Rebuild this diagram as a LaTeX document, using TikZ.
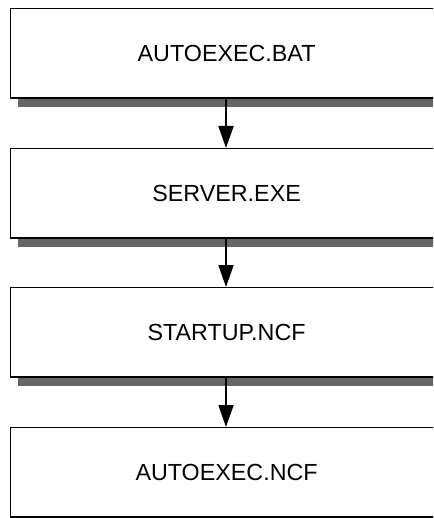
\documentclass[tikz,border=0pt]{standalone}
\usepackage{fontspec}
\setmainfont{Liberation Sans}
\usetikzlibrary{arrows.meta}
\definecolor{shadowgray}{HTML}{666666}
\tikzset{
  stagebox/.style={draw=black, line width=1.2pt, fill=white, minimum width=432pt,
    minimum height=89pt, inner sep=0pt, anchor=north west,
    font=\fontsize{23.3}{28}\selectfont},
  flowarrow/.style={line width=1.8pt, -{Triangle[length=22pt,width=15pt]}},
}
\newcommand{\boxshadow}[1]{%
  \fill[shadowgray] ([xshift=8pt]#1.south west) rectangle ([xshift=10pt,yshift=-9pt]#1.south east);}
\begin{document}
\begin{tikzpicture}[x=1pt,y=-1pt]
  \useasboundingbox (0,0) rectangle (433,518);
  \clip (0,0) rectangle (433,518);
  % the four start-up stages
  \node[stagebox] (bat) at (10,8)   {AUTOEXEC.BAT};
  \node[stagebox] (srv) at (10,148) {SERVER.EXE};
  \node[stagebox] (stu) at (10,287) {STARTUP.NCF};
  \node[stagebox] (ncf) at (10,427) {AUTOEXEC.NCF};
  % shadows under each box
  \boxshadow{bat}
  \boxshadow{srv}
  \boxshadow{stu}
  \boxshadow{ncf}
  % redraw the box borders on top of the shadows
  \foreach \b in {bat,srv,stu,ncf}
    \draw[line width=1.2pt] (\b.south west) -- (\b.south east);
  % sequence arrows
  \draw[flowarrow] (bat.south -| 226,0) -- (srv.north -| 226,0);
  \draw[flowarrow] (srv.south -| 226,0) -- (stu.north -| 226,0);
  \draw[flowarrow] (stu.south -| 226,0) -- (ncf.north -| 226,0);
\end{tikzpicture}
\end{document}
